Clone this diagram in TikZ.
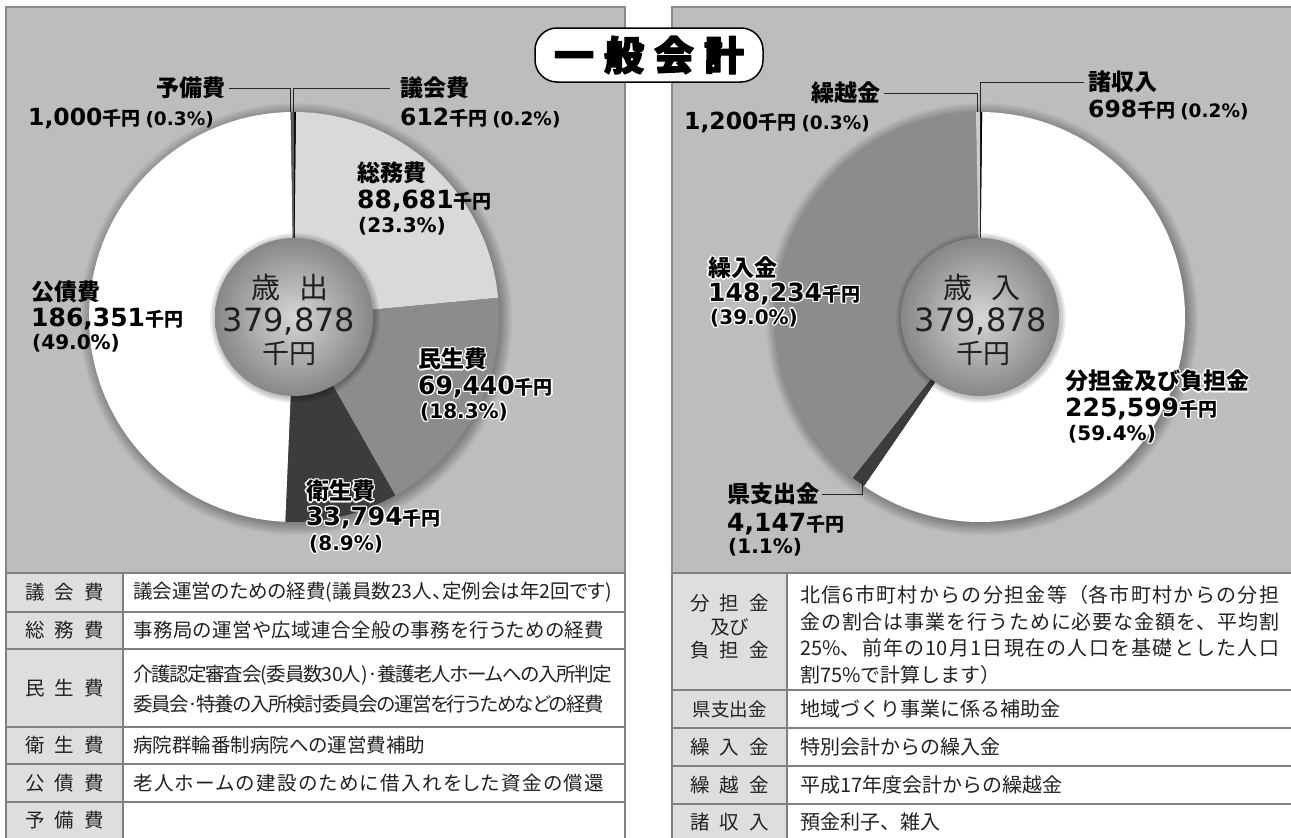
\documentclass[tikz,border=0pt]{standalone}
\usepackage{fontspec}
\setmainfont{Noto Sans CJK JP}
\newfontfamily\jp{Noto Sans CJK JP}
\newfontfamily\jpt[RawFeature=+palt]{Noto Sans CJK JP}
\newfontfamily\num{DejaVu Sans}
\usetikzlibrary{calc}
\XeTeXlinebreaklocale "ja"
\XeTeXlinebreakskip=0pt plus 2pt minus 3pt
\definecolor{panel}{HTML}{BDBDBD}
\definecolor{pborder}{HTML}{8A8A8A}
\definecolor{cellgray}{HTML}{DEDEDE}
\definecolor{somuc}{HTML}{D9D9D9}
\definecolor{midc}{HTML}{8C8C8C}
\definecolor{darkc}{HTML}{3C3C3C}
\definecolor{ink}{HTML}{222222}
\newcommand\cpy[3]{\rlap{\kern#1\raisebox{#2}{\color{#3}\copy0}}}
\newcommand\halo[1]{{\setbox0=\hbox{#1}\cpy{1.4pt}{0pt}{white}\cpy{-1.4pt}{0pt}{white}\cpy{0pt}{1.4pt}{white}\cpy{0pt}{-1.4pt}{white}\cpy{1pt}{1pt}{white}\cpy{-1pt}{1pt}{white}\cpy{1pt}{-1pt}{white}\cpy{-1pt}{-1pt}{white}\box0}}
\newcommand\bld[2]{\special{pdf:literal direct 1 j 2 Tr #1 w 0 0 0 RG}#2\special{pdf:literal direct 0 Tr 0 0 0 RG}}
\newcommand\Lb[1]{{\jp\bfseries\fontsize{23}{23}\selectfont#1}}
\newcommand\Nm[1]{{\num\bfseries\fontsize{25}{25}\selectfont#1}}
\newcommand\Ns[1]{{\num\bfseries\fontsize{23.5}{24}\selectfont#1}}
\newcommand\Yn{{\jp\bfseries\fontsize{19}{19}\selectfont 千円}}
\newcommand\Pct[1]{{\num\bfseries\fontsize{20}{20}\selectfont#1}}
\newcommand\Pcs[1]{{\num\bfseries\fontsize{18.5}{19}\selectfont#1}}
\newcommand\spc[3]{#1\hspace{10pt}#2\hspace{10pt}#3}
\newcommand\fitline[2]{\parbox{#1}{\parfillskip=0pt\relax #2}}
\newcommand\slice[5]{\fill[#5] (#1) -- ++(#2:#4) arc[start angle=#2, end angle=#3, radius=#4] -- cycle;}
\begin{document}
\begin{tikzpicture}[x=1pt,y=-1pt,
  lb/.style={anchor=west,inner sep=0pt,text=black},
  leader/.style={draw=black!85,line width=1pt},
  tline/.style={draw=black!50,line width=1.3pt},
  tl/.style={inner sep=0pt,font=\jp\fontsize{19.5}{23.5}\selectfont,text=ink,align=center},
  td/.style={anchor=west,inner sep=0pt,font=\jpt\fontsize{19.5}{27.5}\selectfont,text=ink,align=left},
  tdr/.style={anchor=west,inner sep=0pt,font=\jp\fontsize{20}{26.7}\selectfont,text=ink},
  ctxt/.style={inner sep=0pt,text=black!88}]
\useasboundingbox (0,0) rectangle (1291,838);
\clip (0,0) rectangle (1291,838);
\fill[white] (0,0) rectangle (1291,838);
% panels
\filldraw[fill=panel,draw=pborder,line width=1.2pt] (6,7) rectangle (625,850);
\filldraw[fill=panel,draw=pborder,line width=1.2pt] (672,7) rectangle (1300,850);
% centres
\coordinate (lc) at (294,317);
\coordinate (rc) at (980,317);
% soft shadows
\foreach \i in {1,...,10} {
  \fill[black,opacity=0.035] ($(lc)+(2pt,-2pt)$) circle[radius={203pt+\i*1.3pt}];
  \fill[black,opacity=0.035] ($(rc)+(2pt,-2pt)$) circle[radius={203pt+\i*1.3pt}];
}
% left pie (expenditure)
\slice{lc}{90}{89.42}{205pt}{black}
\slice{lc}{89.42}{5.3794}{205pt}{somuc}
\slice{lc}{5.3794}{-60.427}{205pt}{midc}
\slice{lc}{-60.427}{-92.453}{205pt}{darkc}
\slice{lc}{-92.453}{-269.053}{205pt}{white}
\slice{lc}{-269.053}{-270}{205pt}{black!65}
% right pie (revenue)
\slice{rc}{90}{89.338}{205pt}{black}
\slice{rc}{89.338}{-124.456}{205pt}{white}
\slice{rc}{-124.456}{-128.387}{205pt}{darkc}
\slice{rc}{-128.387}{-268.865}{205pt}{midc}
\slice{rc}{-268.865}{-270}{205pt}{black!20}
% inner circles
\foreach \i in {1,...,5} {
  \fill[black,opacity=0.05] ($(lc)+(1pt,-1pt)$) circle[radius={79pt+\i*1.2pt}];
  \fill[black,opacity=0.05] ($(rc)+(1pt,-1pt)$) circle[radius={79pt+\i*1.2pt}];
}
\shade[inner color=black!16,outer color=black!47] (lc) circle[radius=79pt];
\shade[inner color=black!16,outer color=black!47] (rc) circle[radius=79pt];
\node[ctxt,font=\jp\fontsize{29}{29}\selectfont] (lhead) at (290,288) {歳\hspace{20pt}出};
\node[ctxt,font=\num\fontsize{32}{32}\selectfont] (lnum) at (289,321) {379,878};
\node[ctxt,font=\jp\fontsize{27}{27}\selectfont] (lyen) at (289,353) {千円};
\node[ctxt,font=\jp\fontsize{29}{29}\selectfont] (rhead) at (982,288) {歳\hspace{20pt}入};
\node[ctxt,font=\num\fontsize{32}{32}\selectfont] (rnum) at (981,321) {379,878};
\node[ctxt,font=\jp\fontsize{27}{27}\selectfont] (ryen) at (983,353) {千円};
% left labels
\coordinate (yobiP) at (290,112);
\coordinate (gikaiP) at (293,112);
\node[lb,anchor=east] (yobi) at (226,88) {\Lb{予備費}};
\node[lb] (yobiv) at (28,118) {\Ns{1,000}\Yn\hspace{5pt}\Pcs{(0.3\%)}};
\node[lb] (gikai) at (400,88) {\Lb{議会費}};
\node[lb] (gikaiv) at (400,118) {\Ns{612}\Yn\hspace{5pt}\Pcs{(0.2\%)}};
\draw[leader] ([xshift=3pt]yobi.east) -| (yobiP);
\draw[leader] ([xshift=-10pt]gikai.west) -| (gikaiP);
\node[lb] (somu) at (357,173) {\Lb{総務費}};
\node[lb] (somuv) at (357,201) {\Nm{88,681}\Yn};
\node[lb] (somup) at (358,226) {\Pct{(23.3\%)}};
\node[lb] (kosai) at (31,292) {\Lb{公債費}};
\node[lb] (kosaiv) at (31,319) {\Nm{186,351}\Yn};
\node[lb] (kosaip) at (32,343) {\Pct{(49.0\%)}};
\node[lb] (minsei) at (418,359) {\halo{\Lb{民生費}}};
\node[lb] (minseiv) at (418,387) {\halo{\Nm{69,440}\Yn}};
\node[lb] (minseip) at (420,412) {\halo{\Pct{(18.3\%)}}};
\node[lb] (eisei) at (306,491) {\halo{\Lb{衛生費}}};
\node[lb] (eiseiv) at (306,518) {\halo{\Nm{33,794}\Yn}};
\node[lb] (eiseip) at (309,544) {\halo{\Pct{(8.9\%)}}};
% right labels
\coordinate (kkosP) at (977,112);
\coordinate (shoshP) at (980,112);
\coordinate (kenP) at (862,480);
\node[lb,anchor=east] (kkos) at (881,93) {\Lb{繰越金}};
\node[lb] (kkosv) at (684,122) {\Ns{1,200}\Yn\hspace{5pt}\Pcs{(0.3\%)}};
\node[lb] (shosh) at (1088,82) {\Lb{諸収入}};
\node[lb] (shoshv) at (1088,110) {\Ns{698}\Yn\hspace{5pt}\Pcs{(0.2\%)}};
\draw[leader] ([xshift=3pt]kkos.east) -| (kkosP);
\draw[leader] ([xshift=-4pt]shosh.west) -| (shoshP);
\node[lb] (kuri) at (708,268) {\halo{\Lb{繰入金}}};
\node[lb] (kuriv) at (708,294) {\halo{\Nm{148,234}\Yn}};
\node[lb] (kurip) at (710,318) {\halo{\Pct{(39.0\%)}}};
\node[lb] (bun) at (1065,381) {\halo{\Lb{分担金及び負担金}}};
\node[lb] (bunv) at (1065,409) {\halo{\Nm{225,599}\Yn}};
\node[lb] (bunp) at (1068,434) {\halo{\Pct{(59.4\%)}}};
\node[lb] (ken) at (727,494) {\Lb{県支出金}};
\node[lb] (kenv) at (727,524) {\Nm{4,147}\Yn};
\node[lb] (kenp) at (728,547) {\Pct{(1.1\%)}};
\draw[leader] ([xshift=3pt]ken.east) -| (kenP);
% left table
\fill[cellgray] (6,573) rectangle (123,850);
\fill[white] (123,573) rectangle (625,850);
\foreach \yy in {573,612,649,727,764,802} {\draw[tline] (6,\yy) -- (625,\yy);}
\draw[tline] (6,573) -- (6,850);
\draw[tline] (123,573) -- (123,850);
\draw[tline] (625,573) -- (625,850);
\node[tl] (ta1) at (64.5,592.5) {\spc{議}{会}{費}};
\node[tl] (ta2) at (64.5,630.5) {\spc{総}{務}{費}};
\node[tl] (ta3) at (64.5,688) {\spc{民}{生}{費}};
\node[tl] (ta4) at (64.5,745.5) {\spc{衛}{生}{費}};
\node[tl] (ta5) at (64.5,783) {\spc{公}{債}{費}};
\node[tl] (ta6) at (64.5,820) {\spc{予}{備}{費}};
\node[td] (tb1) at (133,592.5) {\fitline{479pt}{議会運営のための経費(議員数23人、定例会は年2回です)}};
\node[td] (tb2) at (133,630.5) {\fitline{471pt}{事務局の運営や広域連合全般の事務を行うための経費}};
\node[td] (tb3) at (133,689) {\fitline{479pt}{介護認定審査会(委員数30人)·養護老人ホームへの入所判定}\\[2pt]\fitline{471pt}{委員会·特養の入所検討委員会の運営を行うためなどの経費}};
\node[td] (tb4) at (133,745.5) {病院群輪番制病院への運営費補助};
\node[td] (tb5) at (133,783) {\fitline{471pt}{老人ホームの建設のために借入れをした資金の償還}};
% right table
\fill[cellgray] (672,573) rectangle (787,850);
\fill[white] (787,573) rectangle (1300,850);
\foreach \yy in {573,690,728,766,804} {\draw[tline] (672,\yy) -- (1300,\yy);}
\draw[tline] (672,573) -- (672,850);
\draw[tline] (787,573) -- (787,850);
\node[tl] (tc1) at (729.5,627) {\spc{分}{担}{金}\\及び\\\spc{負}{担}{金}};
\node[tl,font=\jp\fontsize{18.5}{22}\selectfont] (tc2) at (729.5,709) {県支出金};
\node[tl] (tc3) at (729.5,747) {\spc{繰}{入}{金}};
\node[tl] (tc4) at (729.5,785) {\spc{繰}{越}{金}};
\node[tl] (tc5) at (729.5,822) {\spc{諸}{収}{入}};
\node[tdr,text width=479pt,align=justify] (td1) at (800,635) {\noindent 北信6市町村からの分担金等（各市町村からの分担\linebreak 金の割合は事業を行うために必要な金額を、平均割\linebreak 25\%、前年の10月1日現在の人口を基礎とした人口\linebreak 割75\%で計算します）};
\node[tdr] (td2) at (800,709) {地域づくり事業に係る補助金};
\node[tdr] (td3) at (800,747) {特別会計からの繰入金};
\node[tdr] (td4) at (800,785) {平成17年度会計からの繰越金};
\node[tdr] (td5) at (800,822) {預金利子、雑入};
% title
\node[draw=black,line width=1.5pt,fill=white,rounded corners=22pt,minimum width=228pt,minimum height=54pt,inner sep=0pt,font=\jp\bfseries\fontsize{40}{40}\selectfont] (title) at (649,55) {\bld{1.2}{一\hspace{10pt}般\hspace{10pt}会\hspace{10pt}計}};
\end{tikzpicture}
\end{document}
